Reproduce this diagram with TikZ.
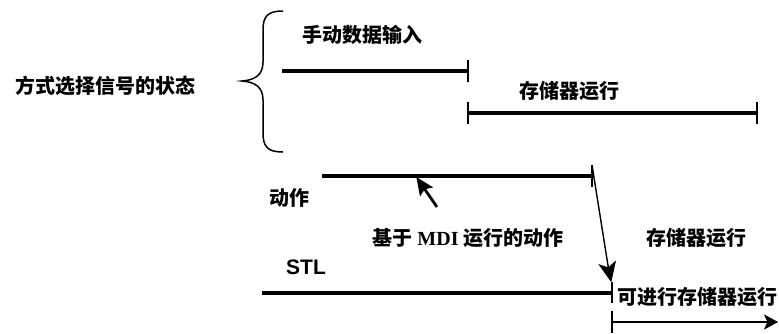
\documentclass[tikz,border=0pt]{standalone}
\usepackage{fontspec}
\setmainfont{Liberation Sans}
\newfontfamily\cjk{Noto Sans CJK SC}
\newfontfamily\tms{Liberation Serif}
\usetikzlibrary{arrows.meta}
\begin{document}
\begin{tikzpicture}[x=1pt,y=-1pt,
  lbl/.style={inner sep=0pt,font=\fontsize{20}{20}\selectfont\cjk\bfseries},
  bar/.style={line width=4.5pt},
  tick/.style={line width=1.8pt},
  thin/.style={line width=1.4pt},
  head/.style={fill=black,draw=black,line width=1pt,line join=miter}]
\useasboundingbox (0,0) rectangle (779,333);
% texts
\node[lbl] (mode) at (105,86) {方式选择信号的状态};
\node[lbl] (mdi) at (362,35) {手动数据输入};
\node[lbl] (mem1) at (569,91) {存储器运行};
\node[lbl] (act) at (289,198) {动作};
\node[lbl] (mdiact) at (468,238) {基于 {\tms\bfseries MDI} 运行的动作};
\node[lbl] (mem2) at (696,238) {存储器运行};
\node[inner sep=0pt,font=\fontsize{21}{21}\selectfont\bfseries] (stl) at (306,267) {STL};
\node[lbl,anchor=west] (can) at (617,297) {可进行存储器运行};
% brace
\draw[line width=1.5pt] (283,11) .. controls (268,11) and (263,16) .. (263,30)
  -- (263,62) .. controls (263,75) and (255,80) .. (242,81)
  .. controls (255,82) and (263,87) .. (263,100)
  -- (263,133) .. controls (263,147) and (268,152) .. (283,152);
% coordinates
\coordinate (a1) at (282,71); \coordinate (a2) at (468,71);
\coordinate (b1) at (468,113); \coordinate (b2) at (757,113);
\coordinate (c1) at (322,176); \coordinate (c2) at (592,176);
\coordinate (d1) at (262,293); \coordinate (d2) at (612,293);
% bars
\draw[bar] (a1) -- (a2);
\draw[tick] ([yshift=-11pt]a2) -- ([yshift=11pt]a2);
\draw[bar] (b1) -- (b2);
\draw[tick] ([yshift=-11pt]b1) -- ([yshift=11pt]b1);
\draw[tick] ([yshift=-11pt]b2) -- ([yshift=11pt]b2);
\draw[bar] (c1) -- (c2);
\draw[tick] ([yshift=-11pt]c2) -- ([yshift=11pt]c2) coordinate (c4);
\draw[bar] (d1) -- ([xshift=-1pt]d2);
\draw[tick] (612,282) -- (612,303);
% diagonal arrow
\coordinate (dt) at (611,281);
\draw[thin] (c4) -- (608.4,268);
\draw[head] (dt) -- (615.2,261.8) -- (608.4,268) -- (599.6,265.0) -- cycle;
% bottom arrow
\coordinate (e1) at (612,322); \coordinate (e2) at (777,322);
\draw[tick] (612,311) -- (612,333);
\draw[line width=1.8pt] (e1) -- (770,322);
\draw[head] (e2) -- (765,315.5) -- (768,322) -- (765,328.5) -- cycle;
% MDI pointer
\coordinate (p1) at (437,207); \coordinate (p2) at (417,178);
\draw[line width=2.8pt] (p1) -- (424.4,188.7);
\draw[head] (p2) -- (431.9,187.2) -- (424.4,188.7) -- (420.3,195.2) -- cycle;
\end{tikzpicture}
\end{document}
